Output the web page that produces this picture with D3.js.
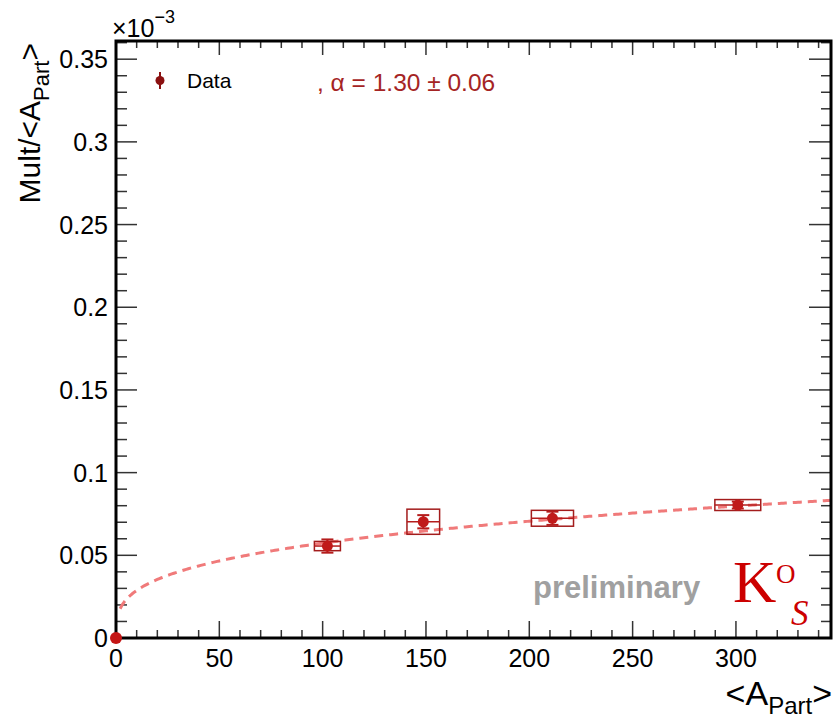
<!DOCTYPE html>
<html>
<head>
<meta charset="utf-8">
<title>K0S multiplicity vs Apart</title>
<script src="https://d3js.org/d3.v7.min.js"></script>
<style>
  body { margin: 0; background: #fff; }
  text { font-family: "Liberation Sans", Arial, sans-serif; }
</style>
</head>
<body>
<div id="chart"></div>
<script>
// values (y in units of 10^-3)
var apart    = [102.3, 148.7, 211.2, 300.9];
var apartErr = [6.3, 7.9, 10.2, 11.1];
var mult     = [0.0556, 0.0703, 0.0724, 0.0804];
var statErr  = [0.0040, 0.0040, 0.0040, 0.0021];
var sysErr   = [0.0028, 0.0076, 0.0048, 0.0033];

// power law fit  Mult/<Apart> = norm * Apart^(alpha-1)
var fitAlpha = 1.30, fitNorm = 0.01441;

var xTickVals = [0, 50, 100, 150, 200, 250, 300];
var yTickVals = [0, 0.05, 0.1, 0.15, 0.2, 0.25, 0.3, 0.35];
var yTickLabels = ["0", "0.05", "0.1", "0.15", "0.2", "0.25", "0.3", "0.35"];

var width = 834, height = 720;
var padL = 116, padR = 831, padT = 41, padB = 638;

var svg = d3.select('#chart').append('svg')
    .attr('width', width)
    .attr('height', height);
svg.append('rect').attr('width', width).attr('height', height).attr('fill', '#fff');

var x = d3.scaleLinear().domain([0, 346]).range([padL, padR]);
var y = d3.scaleLinear().domain([0, 0.361]).range([padB, padT]);

// minor + major ticks on all four sides
var minorX = d3.range(0, 346, 10), minorY = d3.range(0, 0.361, 0.01);
var tk = svg.append('g').attr('stroke', '#333').attr('stroke-width', 1.5);
minorX.forEach(function(v) {
  var major = Math.abs(v % 50) < 1e-6;
  var px = x(v);
  tk.append('line').attr('x1', px).attr('x2', px).attr('y1', padB).attr('y2', padB - (major ? 17 : 8));
  tk.append('line').attr('x1', px).attr('x2', px).attr('y1', padT).attr('y2', padT + (major ? 14 : 7));
});
minorY.forEach(function(v, i) {
  var major = i % 5 == 0;
  var py = y(v);
  tk.append('line').attr('y1', py).attr('y2', py).attr('x1', padL).attr('x2', padL + (major ? 21 : 11));
  tk.append('line').attr('y1', py).attr('y2', py).attr('x1', padR).attr('x2', padR - (major ? 22 : 10));
});

// tick labels
svg.append('g').selectAll('text').data(xTickVals).enter().append('text')
    .attr('x', function(d) { return x(d); })
    .attr('y', 667)
    .attr('text-anchor', 'middle')
    .attr('font-size', 25)
    .text(function(d) { return d; });
svg.append('g').selectAll('text').data(yTickVals).enter().append('text')
    .attr('x', 108)
    .attr('y', function(d) { return y(d) + 9; })
    .attr('text-anchor', 'end')
    .attr('font-size', 25)
    .text(function(d, i) { return yTickLabels[i]; });

// exponent label
var ex = svg.append('text').attr('x', 112).attr('y', 37).attr('font-size', 25);
ex.append('tspan').text('\u00d710');
ex.append('tspan').attr('dy', -14).attr('font-size', 18).text('\u22123');

// axis titles
var yt = svg.append('text')
    .attr('transform', 'translate(40,' + (padT + 2) + ') rotate(-90)')
    .attr('text-anchor', 'end')
    .attr('font-size', 30);
yt.append('tspan').text('Mult/<A');
yt.append('tspan').attr('dy', 9).attr('font-size', 22).text('Part');
yt.append('tspan').attr('dy', -9).text('>');

var xt = svg.append('text')
    .attr('x', padR + 1).attr('y', 705)
    .attr('text-anchor', 'end')
    .attr('font-size', 34);
xt.append('tspan').text('<A');
xt.append('tspan').attr('dy', 9).attr('font-size', 24).text('Part');
xt.append('tspan').attr('dy', -9).text('>');

// fit curve
var fitX = d3.range(2, 346.5, 1);
var line = d3.line()
    .x(function(d) { return x(d); })
    .y(function(d) { return y(fitNorm * Math.pow(d, fitAlpha - 1)); });
svg.append('path')
    .datum(fitX)
    .attr('d', line)
    .attr('fill', 'none')
    .attr('stroke', '#f07a7a')
    .attr('stroke-width', 3)
    .attr('stroke-dasharray', '9,6');

// systematic boxes, error bars, markers
var pts = svg.append('g');
apart.forEach(function(a, i) {
  var g = pts.append('g');
  g.append('rect')
    .attr('x', x(a - apartErr[i]))
    .attr('y', y(mult[i] + sysErr[i]))
    .attr('width', x(a + apartErr[i]) - x(a - apartErr[i]))
    .attr('height', y(mult[i] - sysErr[i]) - y(mult[i] + sysErr[i]))
    .attr('fill', 'none')
    .attr('stroke', '#a31c1c')
    .attr('stroke-width', 1.5);
  g.append('line')
    .attr('x1', x(a - apartErr[i])).attr('x2', x(a + apartErr[i]))
    .attr('y1', y(mult[i])).attr('y2', y(mult[i]))
    .attr('stroke', '#b51c1c').attr('stroke-width', 1.5);
  var ey1 = y(mult[i] + statErr[i]), ey2 = y(mult[i] - statErr[i]);
  g.append('line').attr('x1', x(a)).attr('x2', x(a)).attr('y1', ey1).attr('y2', ey2)
    .attr('stroke', '#b51c1c').attr('stroke-width', 2);
  [ey1, ey2].forEach(function(ey) {
    g.append('line').attr('x1', x(a) - 6).attr('x2', x(a) + 6).attr('y1', ey).attr('y2', ey)
      .attr('stroke', '#b51c1c').attr('stroke-width', 2);
  });
  g.append('circle').attr('cx', x(a)).attr('cy', y(mult[i])).attr('r', 5.5).attr('fill', '#c01a1a');
});

// frame
svg.append('rect')
    .attr('x', padL).attr('y', padT)
    .attr('width', padR - padL).attr('height', padB - padT)
    .attr('fill', 'none').attr('stroke', '#000').attr('stroke-width', 3);

// origin dot
svg.append('circle').attr('cx', x(0)).attr('cy', y(0)).attr('r', 6).attr('fill', '#c41616');

// legend
svg.append('line').attr('x1', 160).attr('x2', 160).attr('y1', 72).attr('y2', 89)
    .attr('stroke', '#8b1010').attr('stroke-width', 2);
svg.append('circle').attr('cx', 160).attr('cy', 80.5).attr('r', 4.5).attr('fill', '#8b1010');
svg.append('text').attr('x', 187).attr('y', 88).attr('font-size', 21).text('Data');
svg.append('text').attr('x', 317).attr('y', 91).attr('font-size', 24.5).attr('fill', '#a52424')
    .text(', \u03b1 = 1.30 \u00b1 0.06');

// labels
svg.append('text').attr('x', 533).attr('y', 598)
    .attr('font-size', 31).attr('font-weight', 'bold').attr('fill', '#a0a0a0')
    .text('preliminary');
var serif = '"Liberation Serif", "Times New Roman", serif';
svg.append('text').attr('x', 733).attr('y', 602).attr('fill', '#cc0000')
    .style('font-family', serif).attr('font-size', 60).text('K');
svg.append('text').attr('x', 776).attr('y', 583).attr('fill', '#cc0000')
    .style('font-family', serif).attr('font-size', 27).text('O');
svg.append('text').attr('x', 791).attr('y', 625).attr('fill', '#cc0000')
    .style('font-family', serif).attr('font-size', 35).attr('font-style', 'italic').text('S');
</script>
</body>
</html>
